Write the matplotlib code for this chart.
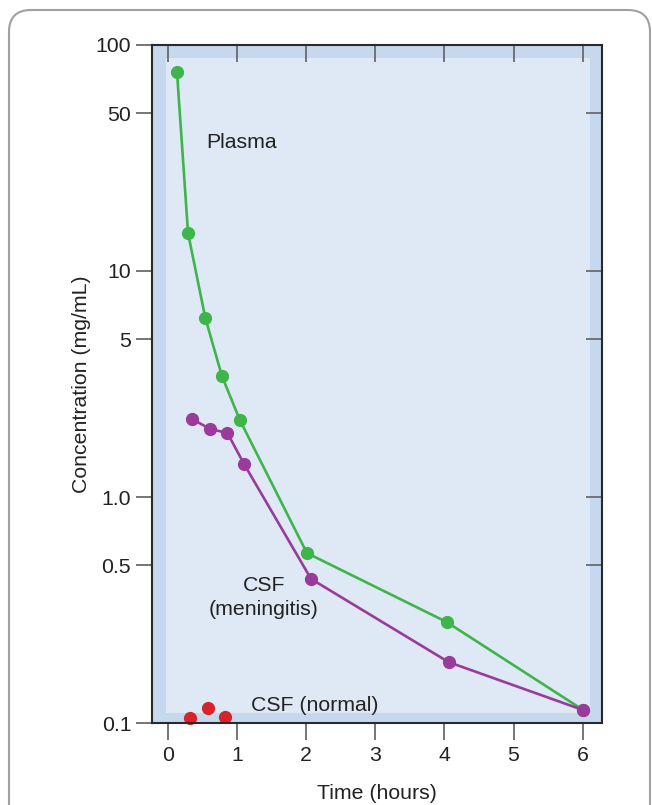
import matplotlib
matplotlib.use("Agg")
import matplotlib.pyplot as plt
from matplotlib.patches import Rectangle, FancyBboxPatch
from matplotlib.transforms import IdentityTransform
from matplotlib.ticker import FixedLocator, NullLocator, FixedFormatter

plt.rcParams['font.family'] = ['Liberation Sans', 'DejaVu Sans']

# Data
plasma_t = [0.13, 0.29, 0.54, 0.78, 1.04, 2.01, 4.03, 6.01]
plasma_c = [76, 14.7, 6.2, 3.43, 2.19, 0.565, 0.28, 0.114]
mening_t = [0.35, 0.61, 0.86, 1.10, 2.07, 4.06, 6.01]
mening_c = [2.21, 2.0, 1.92, 1.40, 0.434, 0.186, 0.114]
normal_t = [0.32, 0.58, 0.83]
normal_c = [0.105, 0.116, 0.106]

x_ticks = [0, 1, 2, 3, 4, 5, 6]
y_ticks = [0.1, 0.5, 1.0, 5, 10, 50, 100]
y_tick_labels = ['0.1', '0.5', '1.0', '5', '10', '50', '100']
y_right_ticks = [0.5, 1.0, 5, 10, 50]

W, H = 652, 805
fig = plt.figure(figsize=(W / 100, H / 100), dpi=100)

# rounded frame around figure
frame = FancyBboxPatch((9, -60), 641, H - 10 + 60, boxstyle="round,pad=0,rounding_size=22",
                       transform=IdentityTransform(), facecolor='white', edgecolor='#a0a0a0',
                       linewidth=1.5, zorder=-10)
fig.patches.append(frame)

ax = fig.add_axes([152 / W, 1 - 723 / H, 450 / W, 678 / H])
ax.set_facecolor('#c6d8ed')
ax.set_yscale('log')
ax.set_ylim(0.1, 100)
ax.set_xlim(-0.2315, 6.28)

inner = Rectangle((0.0311, 0.0152), 0.9733 - 0.0311, 0.9808 - 0.0152, transform=ax.transAxes,
                  facecolor='#dfe9f5', edgecolor='none', zorder=0)
ax.add_patch(inner)

green = '#3db54a'
purple = '#9a3a9b'
red = '#d8232a'

ax.plot(plasma_t, plasma_c, '-o', color=green, lw=1.9, ms=8.5, zorder=3)
ax.plot(mening_t, mening_c, '-o', color=purple, lw=1.9, ms=8.5, zorder=3)
ax.plot(normal_t, normal_c, 'o', color=red, ms=8.5, zorder=3, clip_on=False)

fs = 15.3
ax.text(0.56, 37.2, 'Plasma', fontsize=fs, va='center', ha='left', color='#222222')
ax.text(1.39, 0.36, 'CSF\n(meningitis)', fontsize=fs, va='center', ha='center', color='#222222',
        linespacing=1.3)
ax.text(1.20, 0.120, 'CSF (normal)', fontsize=fs, va='center', ha='left', color='#222222')

for s in ax.spines.values():
    s.set_color('#2a2a2a')
    s.set_linewidth(1.5)
    s.set_zorder(5)

ax.xaxis.set_major_locator(FixedLocator(x_ticks))
ax.xaxis.set_minor_locator(NullLocator())
ax.yaxis.set_major_locator(FixedLocator(y_ticks))
ax.yaxis.set_major_formatter(FixedFormatter(y_tick_labels))
ax.yaxis.set_minor_locator(NullLocator())

ax.tick_params(axis='x', direction='out', length=12.2, width=1.3, color='#6a6a6a',
               labelsize=fs, pad=4, labelcolor='#222222')
ax.tick_params(axis='y', direction='out', length=11.5, width=1.3, color='#6a6a6a',
               labelsize=fs, pad=3.5, labelcolor='#222222')

top = ax.secondary_xaxis('top')
top.set_xticks(x_ticks)
top.tick_params(direction='in', length=12.2, width=1.3, color='#6a6a6a', labeltop=False)
top.spines['top'].set_visible(False)

right = ax.secondary_yaxis('right')
right.set_yscale('log')
right.yaxis.set_major_locator(FixedLocator(y_right_ticks))
right.yaxis.set_minor_locator(NullLocator())
right.tick_params(direction='in', length=11.5, width=1.3, color='#6a6a6a', labelright=False)
right.spines['right'].set_visible(False)

ax.set_xlabel('Time (hours)', fontsize=fs, color='#222222', labelpad=14)
ax.set_ylabel('Concentration (mg/mL)', fontsize=fs, color='#222222', labelpad=3)

fig.savefig('out.png', dpi=100)
